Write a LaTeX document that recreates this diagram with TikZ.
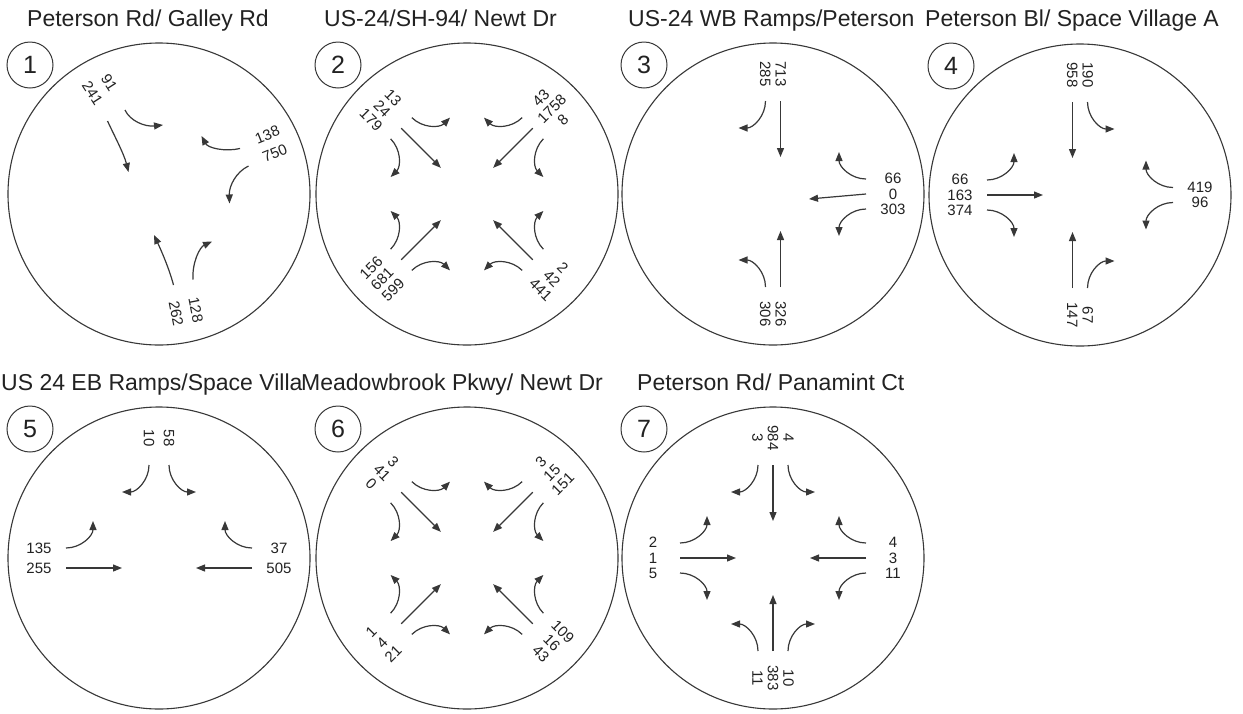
\documentclass[tikz,border=0pt]{standalone}
\usepackage{fontspec}
\setmainfont{Liberation Sans}
\usetikzlibrary{arrows.meta}
\definecolor{ink}{HTML}{383838}
\definecolor{txt}{HTML}{222222}
\tikzset{
  ring/.style={draw=ink, line width=1.1pt},
  mv/.style={draw=ink, line width=1.2pt, -{Triangle[length=9pt,width=7pt]}},
  lbl/.style={font=\fontsize{15}{15.5}\selectfont, align=center, inner sep=0pt, text=txt},
  lblw/.style={lbl, font=\fontsize{15}{20}\selectfont},
  tag/.style={circle, draw=ink, line width=1pt, minimum size=46pt, inner sep=0pt,
              font=\fontsize{25}{25}\selectfont, text=txt},
  ttl/.style={anchor=base west, inner sep=0pt, font=\fontsize{23}{23}\selectfont, text=txt},
}
% movement arrows of one approach, drawn in its own frame:
% x runs outward along the leg, y is the lane offset
\newcommand\mvthru[1]{\draw[mv] (93,#1) -- (37,#1);}
\newcommand\mvright[1]{\draw[mv] (93,#1) arc[start angle=-90,end angle=-180,radius=27pt];}
\newcommand\mvleft[1]{\draw[mv] (93,#1) arc[start angle=90,end angle=180,radius=27pt];}
\begin{document}
\begin{tikzpicture}[x=1pt,y=-1pt]
\useasboundingbox (0,0) rectangle (1243,713);
\fill[white] (0,0) rectangle (1243,713);

% titles
\node[ttl] (t1) at (27,26) {Peterson Rd/ Galley Rd};
\node[ttl] (t2) at (324,26) {US-24/SH-94/ Newt Dr};
\node[ttl] (t3) at (628,26) {US-24 WB Ramps/Peterson};
\node[ttl] (t4) at (925,26) {Peterson Bl/ Space Village A};
\node[ttl] (t5) at (1,390) {US 24 EB Ramps/Space Villa};
\node[ttl] (t6) at (301,390) {Meadowbrook Pkwy/ Newt Dr};
\node[ttl] (t7) at (637,390) {Peterson Rd/ Panamint Ct};

% intersection rings
\draw[ring] (159,194) circle[radius=151pt];
\draw[ring] (467,194) circle[radius=151pt];
\draw[ring] (773,194) circle[radius=151pt];
\draw[ring] (1080,195) circle[radius=151pt];
\draw[ring] (159,558) circle[radius=151pt];
\draw[ring] (467,558) circle[radius=151pt];
\draw[ring] (773,558) circle[radius=151pt];

% numbered tags
\node[tag] (n1) at (30,65) {1};
\node[tag] (n2) at (338,65) {2};
\node[tag] (n3) at (644,65) {3};
\node[tag] (n4) at (951,66) {4};
\node[tag] (n5) at (30,429) {5};
\node[tag] (n6) at (338,429) {6};
\node[tag] (n7) at (644,429) {7};

% ---- 1: Peterson Rd / Galley Rd (three skewed legs)
\draw[mv] (125,110) .. controls (130,121) and (145,127) .. (163,125);
\draw[mv] (107.5,121) .. controls (115,137) and (124,154) .. (128.5,172);
\draw[mv] (240,148.5) .. controls (225,152) and (208,148) .. (201.5,136);
\draw[mv] (248.5,166) .. controls (236,172) and (229,186) .. (229.5,203.5);
\draw[mv] (173.5,285) .. controls (169,268) and (161,250) .. (154,235);
\draw[mv] (193,279.5) .. controls (192,262) and (200,247) .. (212,241.5);
\node[lblw, rotate=-57] (g1nw) at (101,88) {91\\241};
\node[lblw, rotate=22] (g1e) at (271,144) {138\\750};
\node[lblw, rotate=-79] (g1s) at (186,312) {128\\262};

% ---- 2: US-24 / SH-94 / Newt Dr
\begin{scope}[shift={(467,194)}, y=1pt]
  \begin{scope}[rotate=45]
    \mvright{15}\mvthru{0}\mvleft{-15}
    \node[lbl, rotate=45] (g2ne) at (120,0) {43\\1758\\8};
  \end{scope}
  \begin{scope}[rotate=135]
    \mvleft{-15}\mvthru{0}\mvright{15}
    \node[lbl, rotate=-45] (g2nw) at (120,0) {13\\24\\179};
  \end{scope}
  \begin{scope}[rotate=225]
    \mvleft{-15}\mvthru{0}\mvright{15}
    \node[lbl, rotate=45] (g2sw) at (120,0) {156\\681\\599};
  \end{scope}
  \begin{scope}[rotate=315]
    \mvright{15}\mvthru{0}\mvleft{-15}
    \node[lbl, rotate=-45] (g2se) at (120,0) {2\\42\\441};
  \end{scope}
\end{scope}

% ---- 3: US-24 WB Ramps / Peterson
\begin{scope}[shift={(773,194)}, y=1pt]
  \begin{scope}[rotate=90]
    \mvthru{-7.5}\mvright{7.5}
    \node[lbl, rotate=-90] (g3n) at (120,0) {713\\285};
  \end{scope}
  \begin{scope}[rotate=0]
    \mvright{15}\mvleft{-15}
    \draw[mv] (93,0) -- (36,-5);
    \node[lbl] (g3e) at (120,0) {66\\0\\303};
  \end{scope}
  \begin{scope}[rotate=270]
    \mvthru{7.5}\mvleft{-7.5}
    \node[lbl, rotate=-90] (g3s) at (120,0) {326\\306};
  \end{scope}
\end{scope}

% ---- 4: Peterson Bl / Space Village Ave
\begin{scope}[shift={(1080,195)}, y=1pt]
  \begin{scope}[rotate=90]
    \mvleft{-7.5}\mvthru{7.5}
    \node[lbl, rotate=-90] (g4n) at (120,0) {190\\958};
  \end{scope}
  \begin{scope}[rotate=0]
    \mvright{7.5}\mvleft{-7.5}
    \node[lbl] (g4e) at (120,0) {419\\96};
  \end{scope}
  \begin{scope}[rotate=180]
    \mvleft{-15}\mvthru{0}\mvright{15}
    \node[lbl] (g4w) at (120,0) {66\\163\\374};
  \end{scope}
  \begin{scope}[rotate=270]
    \mvright{7.5}\mvthru{-7.5}
    \node[lbl, rotate=-90] (g4s) at (120,0) {67\\147};
  \end{scope}
\end{scope}

% ---- 5: US 24 EB Ramps / Space Village
\begin{scope}[shift={(159,558)}, y=1pt]
  \begin{scope}[rotate=90]
    \mvleft{-10}\mvright{10}
    \node[lblw, rotate=-90] (g5n) at (120,0) {58\\10};
  \end{scope}
  \begin{scope}[rotate=180]
    \mvleft{-10}\mvthru{10}
    \node[lblw] (g5w) at (120,0) {135\\255};
  \end{scope}
  \begin{scope}[rotate=0]
    \mvright{10}\mvthru{-10}
    \node[lblw] (g5e) at (120,0) {37\\505};
  \end{scope}
\end{scope}

% ---- 6: Meadowbrook Pkwy / Newt Dr
\begin{scope}[shift={(467,558)}, y=1pt]
  \begin{scope}[rotate=45]
    \mvright{15}\mvthru{0}\mvleft{-15}
    \node[lbl, rotate=45] (g6ne) at (120,0) {3\\15\\151};
  \end{scope}
  \begin{scope}[rotate=135]
    \mvleft{-15}\mvthru{0}\mvright{15}
    \node[lbl, rotate=-45] (g6nw) at (120,0) {3\\41\\0};
  \end{scope}
  \begin{scope}[rotate=225]
    \mvleft{-15}\mvthru{0}\mvright{15}
    \node[lbl, rotate=45] (g6sw) at (120,0) {1\\4\\21};
  \end{scope}
  \begin{scope}[rotate=315]
    \mvright{15}\mvthru{0}\mvleft{-15}
    \node[lbl, rotate=-45] (g6se) at (120,0) {109\\16\\43};
  \end{scope}
\end{scope}

% ---- 7: Peterson Rd / Panamint Ct
\begin{scope}[shift={(773,558)}, y=1pt]
  \begin{scope}[rotate=0]
    \mvright{15}\mvthru{0}\mvleft{-15}
    \node[lbl] (g7e) at (120,0) {4\\3\\11};
  \end{scope}
  \begin{scope}[rotate=90]
    \mvleft{-15}\mvthru{0}\mvright{15}
    \node[lbl, rotate=-90] (g7n) at (120,0) {4\\984\\3};
  \end{scope}
  \begin{scope}[rotate=180]
    \mvleft{-15}\mvthru{0}\mvright{15}
    \node[lbl] (g7w) at (120,0) {2\\1\\5};
  \end{scope}
  \begin{scope}[rotate=270]
    \mvright{15}\mvthru{0}\mvleft{-15}
    \node[lbl, rotate=-90] (g7s) at (120,0) {10\\383\\11};
  \end{scope}
\end{scope}
\end{tikzpicture}
\end{document}
